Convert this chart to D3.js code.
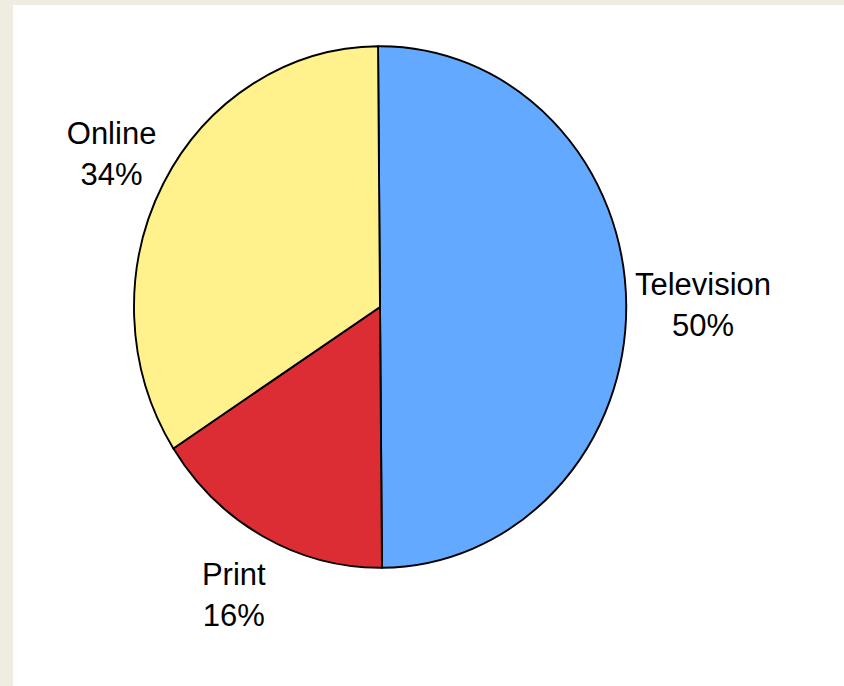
<!DOCTYPE html>
<html>
<head>
<meta charset="utf-8">
<script src="https://cdn.jsdelivr.net/npm/d3@7"></script>
<style>
  html, body { margin: 0; padding: 0; background: #efece2; }
  svg { display: block; }
</style>
</head>
<body>
<svg id="chart" width="844" height="686"></svg>
<script>
// Media share data
const categories = ["Television", "Print", "Online"];
const shares = [50, 16, 34];
const colors = ["#63a9ff", "#dc2d34", "#fff28c"];

const W = 844, H = 686;
const cx = 380, cy = 307;
const radius = 246;
const yStretch = 1.06;
// distance from the pie centre to each label block
const labelRadii = { Television: 323, Print: 308, Online: 305 };

const svg = d3.select("#chart");

svg.append("rect").attr("width", W).attr("height", H).attr("fill", "#efece2");
svg.append("rect").attr("x", 13).attr("y", 5).attr("width", W - 13).attr("height", H - 5).attr("fill", "#ffffff");

const data = categories.map((c, i) => ({ name: c, value: shares[i], color: colors[i] }));

const pie = d3.pie()
  .sort(null)
  .value(d => d.value)
  .startAngle(-0.008)
  .endAngle(2 * Math.PI - 0.008);

const arcs = pie(data);
const arc = d3.arc().innerRadius(0).outerRadius(radius);

const g = svg.append("g")
  .attr("transform", `translate(${cx},${cy}) scale(1,${yStretch})`);

g.selectAll("path.slice")
  .data(arcs)
  .join("path")
  .attr("class", "slice")
  .attr("d", arc)
  .attr("fill", d => d.data.color)
  .attr("stroke", "#000")
  .attr("stroke-width", 1.9)
  .attr("stroke-linejoin", "round")
  .attr("vector-effect", "non-scaling-stroke");

// Labels placed along each slice's mid-angle, outside the pie
const labels = svg.selectAll("g.label")
  .data(arcs)
  .join("g")
  .attr("class", "label")
  .attr("transform", d => {
    const a = (d.startAngle + d.endAngle) / 2;
    const r = labelRadii[d.data.name];
    const x = cx + r * Math.sin(a);
    const y = cy - r * Math.cos(a) * yStretch;
    return `translate(${x},${y})`;
  });

labels.append("text")
  .attr("text-anchor", "middle")
  .attr("y", -9.5)
  .attr("font-family", "Liberation Sans, Arial, sans-serif")
  .attr("font-size", 31)
  .attr("fill", "#000")
  .text(d => d.data.name);

labels.append("text")
  .attr("text-anchor", "middle")
  .attr("y", 31.5)
  .attr("font-family", "Liberation Sans, Arial, sans-serif")
  .attr("font-size", 31)
  .attr("fill", "#000")
  .text(d => d.data.value + "%");
</script>
</body>
</html>
